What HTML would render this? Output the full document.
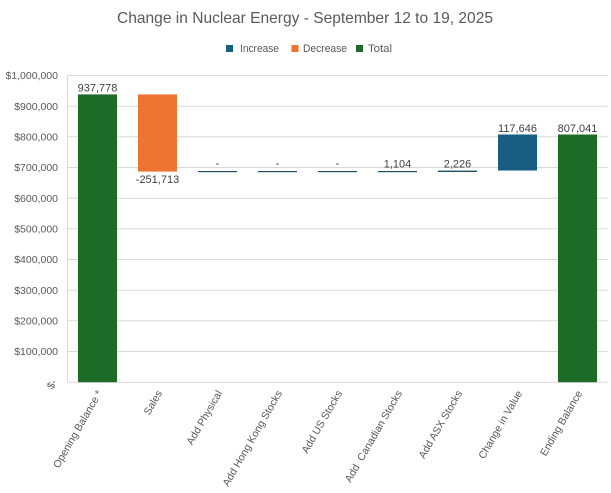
<!DOCTYPE html>
<html><head><meta charset="utf-8"><style>
html,body{margin:0;padding:0;background:#fff;}
svg{display:block;}
text{font-family:"Liberation Sans",sans-serif;}
</style></head><body>
<svg width="611" height="493" viewBox="0 0 611 493" xmlns="http://www.w3.org/2000/svg">
<rect width="611" height="493" fill="#fff"/>
<text x="305" y="23" text-anchor="middle" font-size="16" fill="#595959" textLength="376" lengthAdjust="spacingAndGlyphs">Change in Nuclear Energy - September 12 to 19, 2025</text>
<!-- legend -->
<rect x="226" y="45" width="7" height="7" fill="#175e82"/>
<text x="240" y="52" font-size="11" fill="#595959" textLength="39" lengthAdjust="spacingAndGlyphs">Increase</text>
<rect x="291.5" y="45" width="7" height="7" fill="#ee7434"/>
<text x="303" y="52" font-size="11" fill="#595959" textLength="44" lengthAdjust="spacingAndGlyphs">Decrease</text>
<rect x="356" y="45" width="7" height="7" fill="#1e6b28"/>
<text x="368" y="52" font-size="11" fill="#595959" textLength="24" lengthAdjust="spacingAndGlyphs">Total</text>
<!-- gridlines -->
<g stroke="#d9d9d9" stroke-width="1">
<line x1="67.5" y1="75.5" x2="607.5" y2="75.5"/>
<line x1="67.5" y1="106.2" x2="607.5" y2="106.2"/>
<line x1="67.5" y1="136.8" x2="607.5" y2="136.8"/>
<line x1="67.5" y1="167.5" x2="607.5" y2="167.5"/>
<line x1="67.5" y1="198.2" x2="607.5" y2="198.2"/>
<line x1="67.5" y1="228.8" x2="607.5" y2="228.8"/>
<line x1="67.5" y1="259.5" x2="607.5" y2="259.5"/>
<line x1="67.5" y1="290.2" x2="607.5" y2="290.2"/>
<line x1="67.5" y1="320.8" x2="607.5" y2="320.8"/>
<line x1="67.5" y1="351.5" x2="607.5" y2="351.5"/>
<line x1="67.5" y1="382.2" x2="607.5" y2="382.2"/>
<line x1="67.5" y1="75.5" x2="67.5" y2="382.2"/>
</g>
<!-- y labels -->
<g font-size="10.5" fill="#595959" text-anchor="end">
<text x="58" y="79">$1,000,000</text>
<text x="58" y="110">$900,000</text>
<text x="58" y="140.5">$800,000</text>
<text x="58" y="171">$700,000</text>
<text x="58" y="202">$600,000</text>
<text x="58" y="232.5">$500,000</text>
<text x="58" y="263">$400,000</text>
<text x="58" y="294">$300,000</text>
<text x="58" y="324.5">$200,000</text>
<text x="58" y="355">$100,000</text>
<text x="0" y="0" text-anchor="middle" transform="translate(55,386) rotate(-60)">$-</text>
</g>
<!-- bars -->
<rect x="78" y="94.4" width="39" height="287.8" fill="#1e6b28"/>
<rect x="138" y="94.4" width="39" height="77.2" fill="#ee7434"/>
<rect x="198" y="171" width="39" height="1.2" fill="#1f4e64"/>
<rect x="258" y="171" width="39" height="1.2" fill="#1f4e64"/>
<rect x="318" y="171" width="39" height="1.2" fill="#1f4e64"/>
<rect x="378" y="171" width="39" height="1.2" fill="#1f4e64"/>
<rect x="438" y="170.6" width="39" height="1.4" fill="#1f4e64"/>
<rect x="498" y="134.5" width="39" height="36" fill="#175e82"/>
<rect x="558" y="134.5" width="39" height="247.7" fill="#1e6b28"/>
<!-- data labels -->
<g font-size="11" fill="#404040" text-anchor="middle">
<text x="97.5" y="91.5">937,778</text>
<text x="157.5" y="183">-251,713</text>
<text x="217.5" y="167">-</text>
<text x="277.5" y="167">-</text>
<text x="337.5" y="167">-</text>
<text x="397.5" y="167.5">1,104</text>
<text x="457.5" y="167.5">2,226</text>
<text x="517.5" y="132">117,646</text>
<text x="577.5" y="132">807,041</text>
</g>
<!-- category labels -->
<g font-size="10.5" fill="#595959" text-anchor="end">
<text transform="translate(102.5,393) rotate(-60)">Opening Balance *</text>
<text transform="translate(162.5,393) rotate(-60)">Sales</text>
<text transform="translate(222.5,393) rotate(-60)">Add Physical</text>
<text transform="translate(282.5,393) rotate(-60)">Add Hong Kong Stocks</text>
<text transform="translate(342.5,393) rotate(-60)">Add US Stocks</text>
<text transform="translate(402.5,393) rotate(-60)" xml:space="preserve">Add  Canadian Stocks</text>
<text transform="translate(462.5,393) rotate(-60)">Add ASX Stocks</text>
<text transform="translate(522.5,393) rotate(-60)">Change in Value</text>
<text transform="translate(582.5,393) rotate(-60)">Ending Balance</text>
</g>
</svg>
</body></html>
